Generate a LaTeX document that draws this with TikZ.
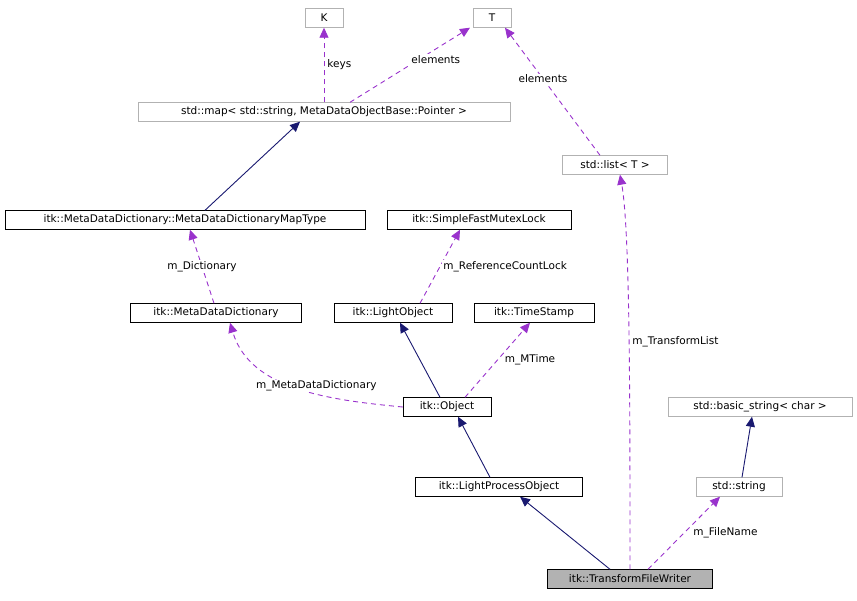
\documentclass[tikz,border=0pt]{standalone}
\usepackage{fontspec}
\setmainfont{DejaVu Sans}
\usetikzlibrary{arrows.meta}
\definecolor{edgeblue}{RGB}{25,25,112}
\definecolor{edgepurple}{RGB}{153,50,204}
\tikzset{
	cls/.style = {draw=black, rectangle, inner sep=0pt, minimum height=19pt, font=\fontsize{10.5}{12}\selectfont},
	ext/.style = {cls, draw=black!30},
	inherit/.style = {edgeblue, line width=0.9pt, -{Triangle[length=10pt,width=9pt]}},
	member/.style = {edgepurple, line width=0.9pt, dash pattern=on 5pt off 4pt, -{Triangle[length=10pt,width=9pt]}},
	lbl/.style = {font=\fontsize{10.5}{12}\selectfont, text=black, fill=white, inner sep=1pt}
}
\begin{document}
\begin{tikzpicture}[x=1pt, y=-1pt]
	\useasboundingbox (0,0) rectangle (857,600);

	\node[ext, minimum width=38pt] (K) at (324,18) {K};
	\node[ext, minimum width=38pt] (T) at (492,18) {T};
	\node[ext, minimum width=372pt] (map) at (324,112) {std::map< std::string, MetaDataObjectBase::Pointer >};
	\node[ext, minimum width=105pt] (list) at (615,165) {std::list< T >};
	\node[cls, minimum width=360pt] (maptype) at (185,220) {itk::MetaDataDictionary::MetaDataDictionaryMapType};
	\node[cls, minimum width=184pt] (mutex) at (479,220) {itk::SimpleFastMutexLock};
	\node[cls, minimum width=171pt] (mdd) at (216,313) {itk::MetaDataDictionary};
	\node[cls, minimum width=118pt] (lobj) at (393,313) {itk::LightObject};
	\node[cls, minimum width=120pt] (tstamp) at (534,313) {itk::TimeStamp};
	\node[cls, minimum width=88pt] (obj) at (447,407) {itk::Object};
	\node[ext, minimum width=184pt] (bstr) at (760,407) {std::basic\_string< char >};
	\node[cls, minimum width=167pt] (lpo) at (499,487) {itk::LightProcessObject};
	\node[ext, minimum width=86pt] (str) at (739,487) {std::string};
	\node[cls, fill=black!30, minimum width=165pt] (tfw) at (630,579) {itk::TransformFileWriter};

	% inheritance
	\draw[inherit] ([xshift=20pt]maptype.north) -- ([xshift=-24pt]map.south);
	\draw[inherit] ([xshift=-7pt]obj.north) -- ([xshift=7pt]lobj.south);
	\draw[inherit] ([xshift=-9pt]lpo.north) -- ([xshift=11pt]obj.south);
	\draw[inherit] ([xshift=3pt]str.north) -- ([xshift=-8pt]bstr.south);
	\draw[inherit] ([xshift=-20pt]tfw.north) -- ([xshift=21pt]lpo.south);

	% members
	\draw[member] (map.north) -- node[lbl, right=2pt]{keys} (K.south);
	\draw[member] ([xshift=26pt]map.north) -- node[lbl, above right=0pt]{elements} ([xshift=-22pt]T.south);
	\draw[member] ([xshift=-15pt]list.north) -- node[lbl, pos=0.6]{elements} ([xshift=13pt]T.south);
	\draw[member] ([xshift=-2pt]mdd.north) -- node[lbl]{m\_Dictionary} ([xshift=5pt]maptype.south);
	\draw[member] ([xshift=27pt]lobj.north) -- node[lbl, right=2pt]{m\_ReferenceCountLock} ([xshift=-19pt]mutex.south);
	\draw[member] (obj.west) .. controls (330,400) and (250,390) .. node[lbl, pos=0.4, above=1pt]{m\_MetaDataDictionary} ([xshift=14pt]mdd.south);
	\draw[member] ([xshift=18pt]obj.north) -- node[lbl, right=6pt]{m\_MTime} ([xshift=-4pt]tstamp.south);
	\draw[member] (tfw.north) .. controls (630,400) and (630,230) .. node[lbl, pos=0.47, right=2pt]{m\_TransformList} ([xshift=5pt]list.south);
	\draw[member] ([xshift=18pt]tfw.north) -- node[lbl, right=8pt]{m\_FileName} ([xshift=-19pt]str.south);
\end{tikzpicture}
\end{document}
